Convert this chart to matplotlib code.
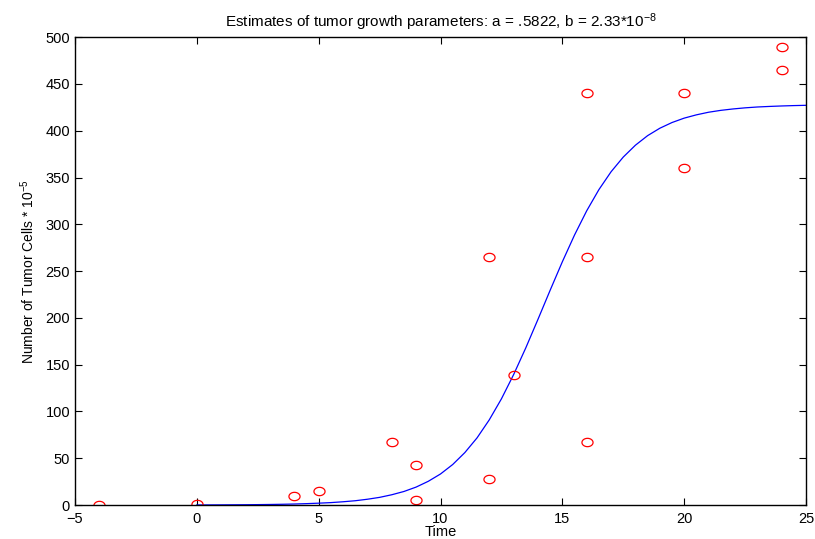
import numpy as np
import matplotlib
matplotlib.use("Agg")
import matplotlib.pyplot as plt
from matplotlib.path import Path

plt.rcParams['font.family'] = ['Liberation Sans', 'DejaVu Sans']
plt.rcParams['mathtext.fontset'] = 'custom'
plt.rcParams['mathtext.rm'] = 'Liberation Sans'
plt.rcParams['mathtext.it'] = 'Liberation Sans'

# measured tumour sizes (time, cells * 10^-5)
obs_t = [-4, 0, 4, 5, 8, 9, 9, 12, 12, 13, 16, 16, 16, 20, 20, 24, 24]
obs_n = [0, 1, 10, 15, 67, 43, 5, 28, 265, 139, 440, 265, 67, 440, 360, 489, 465]

# fitted growth curve, every half time unit
fit_t = [0, 0.5, 1, 1.5, 2, 2.5, 3, 3.5, 4, 4.5, 5, 5.5, 6, 6.5, 7, 7.5,
         8, 8.5, 9, 9.5, 10, 10.5, 11, 11.5, 12, 12.5, 13, 13.5, 14, 14.5,
         15, 15.5, 16, 16.5, 17, 17.5, 18, 18.5, 19, 19.5, 20, 20.5, 21,
         21.5, 22, 22.5, 23, 23.5, 24, 24.5, 25]
fit_n = [0.1, 0.14, 0.19, 0.26, 0.34, 0.46, 0.61, 0.82, 1.1, 1.5, 2.0, 2.6,
         3.5, 4.6, 6.2, 8.2, 11.0, 14.5, 19.2, 25.4, 33.2, 43.3, 56.1, 71.8,
         91.0, 113.5, 139.4, 168.0, 198.5, 229.6, 260.0, 288.6, 314.5, 337.1,
         356.2, 371.9, 384.6, 394.8, 402.7, 408.8, 413.5, 417.0, 419.8, 421.8,
         423.3, 424.5, 425.4, 426.0, 426.5, 426.9, 427.2]

# slightly flattened circle, the way the original renderer drew 'o'
ang = np.linspace(0, 2*np.pi, 40)
oval = Path(np.column_stack([np.cos(ang), 0.75*np.sin(ang)]), closed=True)

fig = plt.figure(figsize=(8.15, 5.39), dpi=100)
ax = fig.add_axes([0.092, 0.063, 0.897, 0.868])

ax.plot(fit_t, fit_n, color='#0000ff', lw=0.9)
ax.plot(obs_t, obs_n, ls='none', marker=oval, ms=8, mfc='none',
        mec='#ff0000', mew=0.9)

ax.set_xlim(-5, 25)
ax.set_ylim(0, 500)
ax.set_xticks(range(-5, 26, 5))
ax.set_yticks(range(0, 501, 50))
ax.tick_params(direction='in', top=True, right=True, length=5,
               labelsize=10.5, width=0.8)
ax.tick_params(axis='x', pad=5)
for s in ax.spines.values():
    s.set_linewidth(1.0)

ax.set_xlabel('Time', fontsize=10.5, labelpad=-1)
ax.set_ylabel('Number of Tumor Cells * 10$^{-5}$', fontsize=10, labelpad=6)
ax.set_title('Estimates of tumor growth parameters: a = .5822, b = 2.33*10$^{-8}$',
             fontsize=11, pad=7)

fig.savefig('out.png', dpi=100)
